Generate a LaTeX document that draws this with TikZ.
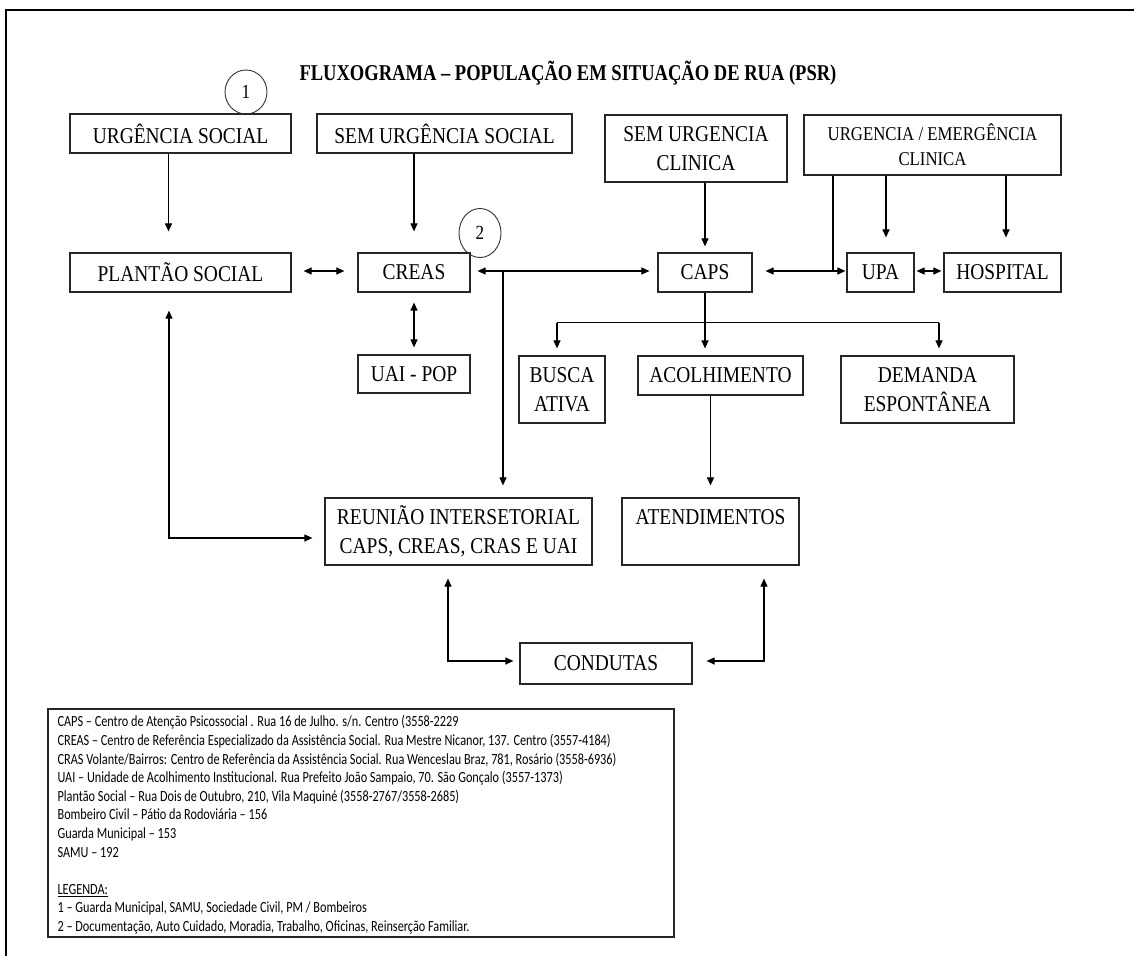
\documentclass[tikz,border=0pt]{standalone}
\usepackage{fontspec}
\setmainfont{Liberation Serif}[FakeStretch=0.86]
\newfontfamily\titlefont{Liberation Serif}[FakeStretch=0.82]
\newfontfamily\legfont{Carlito}[FakeStretch=0.79]
\usetikzlibrary{arrows.meta,shapes.geometric}
\begin{document}
\begin{tikzpicture}[x=1pt,y=-1pt,
  box/.style={draw=black!85, line width=1.2pt, inner sep=0pt, align=center, font=\fontsize{22.6}{29}\selectfont},
  arr/.style={line width=1.1pt, -{Triangle[length=8pt,width=7pt]}},
  darr/.style={line width=1.1pt, {Triangle[length=8pt,width=7pt]}-{Triangle[length=8pt,width=7pt]}},
  ln/.style={line width=1.1pt},
  num/.style={draw=black!80, line width=0.9pt, ellipse, inner sep=0pt, font=\fontsize{20}{24}\selectfont}]
\useasboundingbox (0,0) rectangle (1134,956);
\fill[white] (0,0) rectangle (1134,956);
\draw[line width=2pt] (1134,10) -- (6,10) -- (6,956);

\node[font=\titlefont\bfseries\fontsize{22.6}{26}\selectfont, anchor=base] (title) at (568,80) {FLUXOGRAMA – POPULAÇÃO EM SITUAÇÃO DE RUA (PSR)};

\node[box, minimum width=221pt, minimum height=39pt] (us) at (180.5,133.5) {URGÊNCIA SOCIAL};
\node[box, minimum width=255pt, minimum height=39pt] (sus) at (444.5,133.5) {SEM URGÊNCIA SOCIAL};
\node[box, minimum width=182pt, minimum height=67pt] (suc) at (696,148.5) {SEM URGENCIA\\CLINICA};
\node[box, minimum width=257pt, minimum height=60pt, font=\fontsize{19.5}{25}\selectfont] (uec) at (932.5,145) {URGENCIA / EMERGÊNCIA\\CLINICA};
\node[box, minimum width=221pt, minimum height=39pt] (ps) at (180.5,272.5) {PLANTÃO SOCIAL};
\node[box, minimum width=112pt, minimum height=39pt] (creas) at (414,272.5) {CREAS};
\node[box, minimum width=94pt, minimum height=39pt] (caps) at (705,272.5) {CAPS};
\node[box, minimum width=67pt, minimum height=39pt] (upa) at (880.5,272.5) {UPA};
\node[box, minimum width=117pt, minimum height=39pt] (hosp) at (1002.5,272.5) {HOSPITAL};
\node[box, minimum width=112pt, minimum height=38pt] (uai) at (414,374) {UAI - POP};
\node[box, minimum width=86pt, minimum height=67pt] (busca) at (562,389.5) {BUSCA\\ATIVA};
\node[box, minimum width=165pt, minimum height=39pt] (acol) at (720.5,375.5) {ACOLHIMENTO};
\node[box, minimum width=173pt, minimum height=67pt] (dem) at (927.5,389.5) {DEMANDA\\ESPONTÂNEA};
\node[box, minimum width=267pt, minimum height=67pt] (reun) at (458.5,531.5) {REUNIÃO INTERSETORIAL\\CAPS, CREAS, CRAS E UAI};
\node[box, minimum width=177pt, minimum height=67pt] (aten) at (710.5,531.5) {ATENDIMENTOS\\\mbox{}};
\node[box, minimum width=172pt, minimum height=41pt] (cond) at (606,663.5) {CONDUTAS};

\node[num, minimum width=42pt, minimum height=44pt] (c1) at (246,92) {1};
\node[num, minimum width=42pt, minimum height=49pt] (c2) at (480,233) {2};

% connectors
\draw[arr, shorten >=21pt] ([xshift=-12pt]us.south) -- ([xshift=-12pt]ps.north);
\draw[arr, shorten >=21pt] (sus.south -| creas.north) -- (creas.north);
\draw[darr, shorten <=12pt, shorten >=13pt] ([yshift=1.5pt]ps.east) -- ([yshift=1.5pt]creas.west);
\draw[darr, shorten <=10pt, shorten >=7pt] (creas.south) -- (uai.north);
\draw[darr, shorten <=7pt, shorten >=8pt] ([yshift=1.5pt]creas.east) -- ([yshift=1.5pt]caps.west);
\coordinate (j1) at (503,271);
\draw[arr, shorten >=12pt] (j1) -- (j1 |- reun.north);
\draw[arr, shorten >=6pt] (suc.south -| caps.north) -- (caps.north);
\draw[darr, shorten <=13pt, shorten >=1pt] ([yshift=1.5pt]caps.east) -- ([yshift=1.5pt]upa.west);
\coordinate (j2) at (833,271);
\draw[ln] (uec.south -| j2) -- (j2);
\coordinate (u1) at ([xshift=5.5pt]upa.north);
\draw[arr, shorten >=15pt] (uec.south -| u1) -- (u1);
\coordinate (h1) at ([xshift=3.5pt]hosp.north);
\draw[arr, shorten >=15pt] (uec.south -| h1) -- (h1);
\draw[darr, shorten <=2pt, shorten >=2pt] ([yshift=1.5pt]upa.east) -- ([yshift=1.5pt]hosp.west);
\coordinate (j3) at ([yshift=-30pt]caps.south);
\draw[arr, shorten >=7pt] (caps.south) -- (caps.south |- acol.north);
\coordinate (b1) at ([xshift=-5pt]busca.north);
\coordinate (d1) at ([xshift=11.5pt]dem.north);
\draw[ln] (j3 -| b1) -- (j3 -| d1);
\draw[arr, shorten >=7pt] (j3 -| b1) -- (b1);
\draw[arr, shorten >=7pt] (j3 -| d1) -- (d1);
\draw[arr, shorten >=12pt] (acol.south -| aten.north) -- (aten.north);
\draw[darr, shorten <=18pt, shorten >=12pt] ([xshift=-11.5pt]ps.south) |- ([yshift=-6.5pt]reun.west);
\draw[darr, shorten <=13pt, shorten >=6pt] ([xshift=-10.5pt]reun.south) |- ([yshift=2.5pt]cond.west);
\draw[darr, shorten <=13pt, shorten >=14pt] ([xshift=53.5pt]aten.south) |- ([yshift=2.5pt]cond.east);

% legend
\node[draw=black!85, line width=1.2pt, minimum width=626pt, minimum height=228pt, inner sep=0pt] (leg) at (361,823) {};
\node[anchor=north west, align=left, inner sep=0pt, font=\legfont\fontsize{15.5}{18.6}\selectfont] (legtxt) at ([xshift=10pt,yshift=-7pt]leg.north west) {%
CAPS – Centro de Atenção Psicossocial . Rua 16 de Julho. s/n. Centro (3558-2229\\
CREAS – Centro de Referência Especializado da Assistência Social. Rua Mestre Nicanor, 137. Centro (3557-4184)\\
CRAS Volante/Bairros: Centro de Referência da Assistência Social. Rua Wenceslau Braz, 781, Rosário (3558-6936)\\
UAI – Unidade de Acolhimento Institucional. Rua Prefeito João Sampaio, 70. São Gonçalo (3557-1373)\\
Plantão Social – Rua Dois de Outubro, 210, Vila Maquiné (3558-2767/3558-2685)\\
Bombeiro Civil – Pátio da Rodoviária – 156\\
Guarda Municipal – 153\\
SAMU – 192\\
\mbox{}\\
\underline{LEGENDA:}\\
1 – Guarda Municipal, SAMU, Sociedade Civil, PM / Bombeiros\\
2 – Documentação, Auto Cuidado, Moradia, Trabalho, Oficinas, Reinserção Familiar.};
\end{tikzpicture}
\end{document}
